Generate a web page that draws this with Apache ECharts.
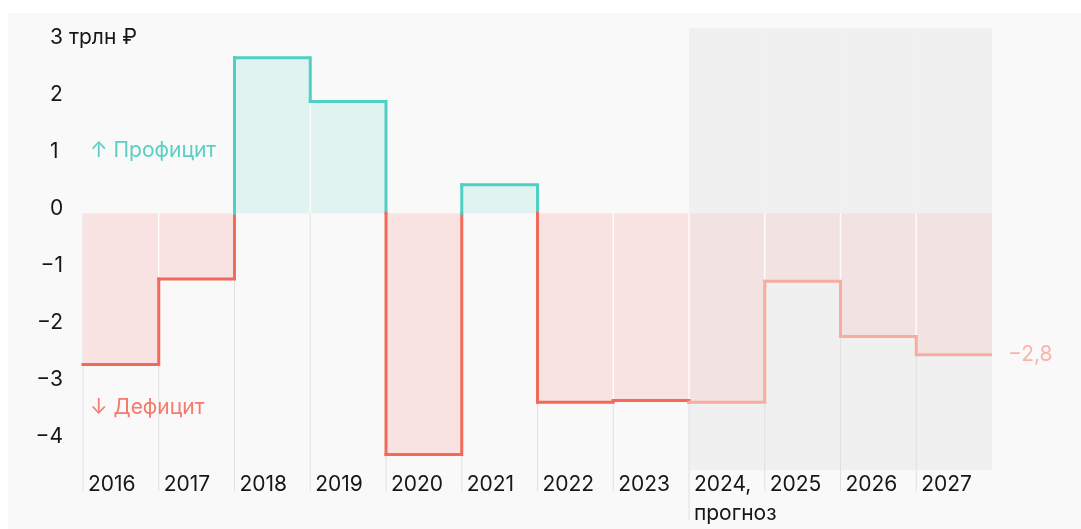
<!DOCTYPE html>
<html><head><meta charset="utf-8">
<script src="https://cdn.jsdelivr.net/npm/echarts@6/dist/echarts.min.js"></script>
<style>html,body{margin:0;padding:0;background:#fff;}#c{width:1081px;height:529px;}</style>
</head><body><div id="c"></div>
<script>
const years = ['2016','2017','2018','2019','2020','2021','2022','2023','2024','2025','2026','2027'];
const balance = [-2.65,-1.15,2.73,1.96,-4.23,0.50,-3.31,-3.28,-3.31,-1.19,-2.16,-2.48];
const forecastFrom = 8;
const yTicks = [-4,-3,-2,-1,0,1,2,3];
const unitLabel = '3 трлн ₽';
const forecastNote = 'прогноз';
const endLabel = '−2,8';
const surplusLabel = '↑ Профицит';
const deficitLabel = '↓ Дефицит';

const FONT = 'Inter, "Noto Sans", sans-serif';
const FS = 21;
const TEXT = '#161616';
const C = {
  teal: '#4fd0c4', tealFill: '#e0f3f0',
  red: '#f26a5a', pinkFill: '#f8e3e2',
  fLine: '#f8ab9f', fFill: '#f2e3e2',
  grid: '#e0e0e0', shade: '#f0f0f0'
};
function isF(i){ return i >= forecastFrom; }
function lineColor(v, i){ if (v >= 0) return C.teal; return isF(i) ? C.fLine : C.red; }

const data = balance.map((v,i)=>[i,v]);
const chart = echarts.init(document.getElementById('c'), null, {renderer:'canvas'});

function geom(api, i){
  const c = api.coord([i, 0]);
  const w = api.size([1, 0])[0];
  return {xL: c[0]-w/2, xR: c[0]+w/2, w, y0: c[1]};
}

const option = {
  animation: false,
  backgroundColor: '#fff',
  textStyle: {fontFamily: FONT},
  grid: {left: 83, right: 89, top: 28, bottom: 59, containLabel: false},
  xAxis: {
    type: 'category', data: years, boundaryGap: true,
    axisLine: {show:false}, axisTick: {show:false}, splitLine: {show:false},
    axisLabel: {
      interval: 0, margin: 0, align: 'center', verticalAlign: 'top',
      formatter: (v, idx) => idx === forecastFrom ? '{a|' + v + ',}\n{a|' + forecastNote + '}' : '{a|' + v + '}',
      rich: {a: {width: 66, align: 'left', fontSize: FS, lineHeight: 29, color: TEXT, fontFamily: FONT}}
    }
  },
  yAxis: [
    {
      type: 'value', min: -4.5, max: 3.25, interval: 0.25,
      axisLine:{show:false}, axisTick:{show:false}, splitLine:{show:false},
      axisLabel: {
        align: 'left', margin: 33, verticalAlign: 'bottom', lineHeight: 10,
        fontSize: FS, color: TEXT, fontFamily: FONT, showMinLabel: true, showMaxLabel: true,
        formatter: v => {
          const t = yTicks.find(x => Math.abs(x - v) < 1e-6);
          if (t === undefined || t < 0) return '';
          return t === 3 ? unitLabel : String(t);
        }
      }
    },
    {
      type: 'value', min: -4.5, max: 3.25, interval: 0.25, position: 'left',
      axisLine:{show:false}, axisTick:{show:false}, splitLine:{show:false},
      axisLabel: {
        align: 'right', margin: 20, verticalAlign: 'bottom', lineHeight: 10,
        fontSize: FS, color: TEXT, fontFamily: FONT,
        formatter: v => {
          const t = yTicks.find(x => Math.abs(x - v) < 1e-6);
          if (t === undefined || t >= 0) return '';
          return '−' + Math.abs(t);
        }
      }
    }
  ],
  graphic: [
    {type:'rect', left: 8, top: 13, z: -100, silent: true,
     shape: {width: 1073, height: 516}, style: {fill: '#f9f9f9'}},
    {type:'text', x: 90, y: 151, z: 100, silent: true,
     style: {text: surplusLabel, fill: '#5bcfc4', font: FS + 'px ' + FONT, verticalAlign: 'middle'}},
    {type:'text', x: 90, y: 408, z: 100, silent: true,
     style: {text: deficitLabel, fill: '#f47a6a', font: FS + 'px ' + FONT, verticalAlign: 'middle'}}
  ],
  series: [
    {
      type: 'custom', z: 1, silent: true, clip: false, data,
      renderItem: (params, api) => {
        const i = api.value(0);
        const g = geom(api, i);
        const cs = params.coordSys;
        const children = [];
        if (isF(i)) children.push({type:'rect', shape:{x:g.xL, y:cs.y, width:g.w, height:cs.height}, style:{fill:C.shade}});
        const ext = i === forecastFrom ? 50 : 21;
        children.push({type:'line', shape:{x1:g.xL, y1:g.y0, x2:g.xL, y2:cs.y+cs.height+ext}, style:{stroke:C.grid, lineWidth:1}});
        return {type:'group', children};
      }
    },
    {
      type: 'custom', z: 2, silent: true, clip: false, data,
      renderItem: (params, api) => {
        const i = api.value(0), v = api.value(1);
        const g = geom(api, i);
        const yv = api.coord([i, v])[1];
        const fill = v >= 0 ? C.tealFill : (isF(i) ? C.fFill : C.pinkFill);
        const children = [{type:'rect', shape:{x:g.xL, y:Math.min(g.y0,yv), width:g.w, height:Math.abs(yv-g.y0)}, style:{fill}}];
        if (i > 0) {
          const p = balance[i-1];
          if ((p >= 0) === (v >= 0)) {
            const m = (v >= 0 ? 1 : -1) * Math.min(Math.abs(p), Math.abs(v));
            const ym = api.coord([i, m])[1];
            children.push({type:'line', shape:{x1:g.xL, y1:g.y0, x2:g.xL, y2:ym}, style:{stroke:'rgba(255,255,255,0.85)', lineWidth:1.5}});
          }
        }
        return {type:'group', children};
      }
    },
    {
      type: 'custom', z: 3, silent: true, clip: false, data,
      renderItem: (params, api) => {
        const i = api.value(0), v = api.value(1);
        const g = geom(api, i);
        const yv = api.coord([i, v])[1];
        const col = lineColor(v, i);
        const st = c => ({stroke:c, lineWidth:3, fill:null, lineCap:'square', lineJoin:'miter'});
        const children = [];
        const n = balance.length;
        if (i < n - 1) {
          const nv = balance[i+1];
          const yn = api.coord([i+1, nv])[1];
          if ((nv >= 0) === (v >= 0)) {
            children.push({type:'polyline', shape:{points:[[g.xL,yv],[g.xR,yv],[g.xR,yn]]}, style:st(col)});
          } else {
            children.push({type:'polyline', shape:{points:[[g.xL,yv],[g.xR,yv],[g.xR,g.y0]]}, style:st(col)});
            children.push({type:'line', shape:{x1:g.xR, y1:g.y0, x2:g.xR, y2:yn}, style:st(lineColor(nv, i+1))});
          }
        } else {
          children.push({type:'line', shape:{x1:g.xL, y1:yv, x2:g.xR, y2:yv}, style:Object.assign(st(col), {lineCap:'butt'})});
          children.push({type:'text', x: g.xR + 16, y: yv, style:{text:endLabel, fill:'#fbb4aa', font:FS + 'px ' + FONT, verticalAlign:'middle', align:'left'}});
        }
        return {type:'group', children};
      }
    }
  ]
};
chart.setOption(option);
</script>
</body></html>
